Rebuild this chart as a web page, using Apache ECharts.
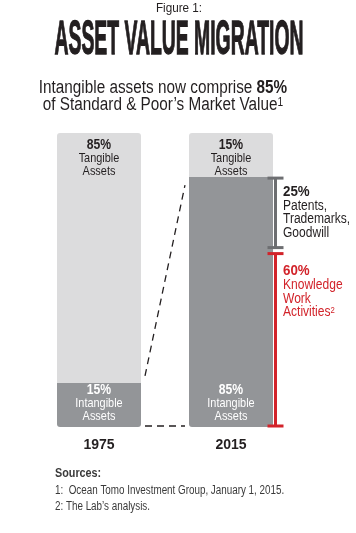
<!DOCTYPE html>
<html><head><meta charset="utf-8">
<script src="https://cdn.jsdelivr.net/npm/echarts@6/dist/echarts.min.js"></script>
<style>html,body{margin:0;padding:0;background:#fff}#c{width:356px;height:533px}</style>
</head><body><div id="c"></div>
<script>
// ---- data ----
const years = ['1975', '2015'];
const intangibleValues = [15, 85];
const tangibleValues = [85, 15];
const segmentNames = [['Intangible', 'Assets'], ['Tangible', 'Assets']];
const breakdownValues = [25, 60];           // split of 2015 intangible assets
const breakdownLabels = [['Patents,', 'Trademarks,', 'Goodwill'], ['Knowledge', 'Work', 'Activities²']];
const sourceLines = ['1:  Ocean Tomo Investment Group, January 1, 2015.', '2: The Lab\u2019s analysis.'];

// ---- styles ----
const DARK = '#231f20', LIGHT = '#dcdcdd', MID = '#939598', BRK = '#6d6e71', RED = '#d2232a';
const F = "'Liberation Sans', Arial, sans-serif";
const BAR_W = 84;

// label anchors: [category, value at anchor edge, percent, kind(0 = bottom segment, 1 = top segment)]
const segLabels = [];
years.forEach((y, i) => {
  segLabels.push([i, 0, intangibleValues[i], 0]);
  segLabels.push([i, intangibleValues[i] + tangibleValues[i], tangibleValues[i], 1]);
});
// brackets built from breakdown values (2015 column, stacked downward from top of intangible)
const brackets = [];
let topV = intangibleValues[1];
breakdownValues.forEach((v, i) => { brackets.push([1, topV, topV - v, i]); topV -= v; });
// connectors: 1975 intangible top -> 2015 intangible top; baseline -> baseline
const connectors = [[0, intangibleValues[0], 1, intangibleValues[1]], [0, 0, 1, 0]];

const chart = echarts.init(document.getElementById('c'), null, {renderer: 'canvas'});

function scaledText(x, y, text, opts) {
  return {
    type: 'text', x: x, y: y, scaleX: opts.sx || 1, scaleY: opts.sy || 1,
    style: Object.assign({text: text, x: 0, y: 0, textAlign: opts.align || 'center', textVerticalAlign: 'top',
      fill: DARK, fontFamily: F}, opts.style || {})
  };
}

chart.setOption({
  animation: false,
  grid: {left: 33, right: 59, top: 133, bottom: 106},
  xAxis: {
    type: 'category', data: years,
    axisLine: {show: false}, axisTick: {show: false},
    axisLabel: {color: DARK, fontFamily: F, fontWeight: 'bold', fontSize: 14, margin: 11}
  },
  yAxis: {type: 'value', min: 0, max: 100, show: false, splitLine: {show: false}},
  series: [
    {
      name: 'Intangible', type: 'bar', stack: 'a', data: intangibleValues, barWidth: BAR_W,
      itemStyle: {color: MID, borderRadius: [0, 0, 3, 3]}
    },
    {
      name: 'Tangible', type: 'bar', stack: 'a', data: tangibleValues, barWidth: BAR_W,
      itemStyle: {color: LIGHT, borderRadius: [3, 3, 0, 0]}
    },
    {
      type: 'custom', data: segLabels, silent: true, z: 4,
      renderItem: (params, api) => {
        const kind = api.value(3);
        const p = api.coord([api.value(0), api.value(1)]);
        const col = kind === 0 ? '#fff' : DARK;
        const names = segmentNames[kind];
        return {
          type: 'text', x: p[0], y: kind === 0 ? p[1] - 4 : p[1] + 5, scaleX: 0.84,
          style: {
            text: `{p|${api.value(2)}%}\n{t|${names[0]}}\n{t|${names[1]}}`,
            x: 0, y: 0, textAlign: 'center', textVerticalAlign: kind === 0 ? 'bottom' : 'top',
            rich: {
              p: {fontFamily: F, fontWeight: 'bold', fontSize: 14.5, lineHeight: 13.5, fill: col, align: 'center'},
              t: {fontFamily: F, fontSize: 13, lineHeight: 13, fill: col, align: 'center'}
            }
          }
        };
      }
    },
    {
      type: 'custom', data: connectors, silent: true, z: 5,
      renderItem: (params, api) => {
        const a = api.coord([api.value(0), api.value(1)]);
        const b = api.coord([api.value(2), api.value(3)]);
        const gap = 4;
        const top = params.dataIndex === 0;
        return {
          type: 'line',
          shape: {x1: a[0] + BAR_W / 2 + gap, y1: a[1] - (top ? 7 : 1), x2: b[0] - BAR_W / 2 - gap, y2: b[1] + (top ? 8 : -1)},
          style: {stroke: DARK, lineWidth: 1.3, lineDash: [7, 5]}
        };
      }
    },
    {
      type: 'custom', data: brackets, silent: true, z: 6,
      renderItem: (params, api) => {
        const i = api.value(3);
        const t = api.coord([api.value(0), api.value(1)]);
        const b = api.coord([api.value(0), api.value(2)]);
        const cx = t[0] + BAR_W / 2 + 2.5;
        const y1 = t[1] + (i === 0 ? 1 : 3), y2 = b[1] - (i === 0 ? 3 : 1);
        const col = i === 0 ? BRK : RED;
        const tcol = i === 0 ? DARK : RED;
        const lines = breakdownLabels[i];
        const txt = `{p|${breakdownValues[i]}%}\n` + lines.map(s => `{t|${s.replace('²', '')}}` + (s.indexOf('²') >= 0 ? '{s|2}' : '')).join('\n');
        return {
          type: 'group',
          children: [
            {type: 'rect', shape: {x: cx - 1.5, y: y1, width: 3, height: y2 - y1}, style: {fill: col}},
            {type: 'rect', shape: {x: cx - 8, y: y1 - 1.5, width: 16, height: 3}, style: {fill: col}},
            {type: 'rect', shape: {x: cx - 8, y: y2 - 1.5, width: 16, height: 3}, style: {fill: col}},
            {
              type: 'text', x: cx + 7.5, y: y1 + (i === 0 ? 6 : 10), scaleX: 0.86,
              style: {
                text: txt, x: 0, y: 0, textAlign: 'left', textVerticalAlign: 'top',
                rich: {
                  p: {fontFamily: F, fontWeight: 'bold', fontSize: 15.5, lineHeight: 15, fill: tcol},
                  t: {fontFamily: F, fontSize: 14, lineHeight: 13.5, fill: tcol},
                  s: {fontFamily: F, fontSize: 9, lineHeight: 13.5, verticalAlign: 'top', fill: tcol}
                }
              }
            }
          ]
        };
      }
    }
  ],
  graphic: [
    scaledText(179, 2, 'Figure 1:', {sx: 0.9, style: {fontSize: 13}}),
    scaledText(179, 16, 'ASSET VALUE MIGRATION', {sx: 0.646, sy: 1.63,
      style: {fontSize: 30, fontWeight: 'bold', stroke: DARK, lineWidth: 0.8}}),
    scaledText(163, 80, '{n|Intangible assets now comprise }{b|85%}\n{n|of Standard & Poor\u2019s Market Value}{s|1}', {sx: 0.85,
      style: {rich: {
        n: {fontSize: 18, fontFamily: F, lineHeight: 17, fill: DARK},
        b: {fontSize: 18, fontFamily: F, fontWeight: 'bold', lineHeight: 17, fill: DARK},
        s: {fontSize: 12, fontFamily: F, lineHeight: 17, verticalAlign: 'top', fill: DARK}
      }}}),
    scaledText(55, 468, 'Sources:', {align: 'left', sx: 0.9, style: {fontSize: 12, fontWeight: 'bold', fill: '#3a3a3a'}}),
    scaledText(55, 485, sourceLines[0], {align: 'left', sx: 0.82, style: {fontSize: 12, fill: '#3a3a3a'}}),
    scaledText(55, 501, sourceLines[1], {align: 'left', sx: 0.82, style: {fontSize: 12, fill: '#3a3a3a'}})
  ]
});
</script></body></html>
